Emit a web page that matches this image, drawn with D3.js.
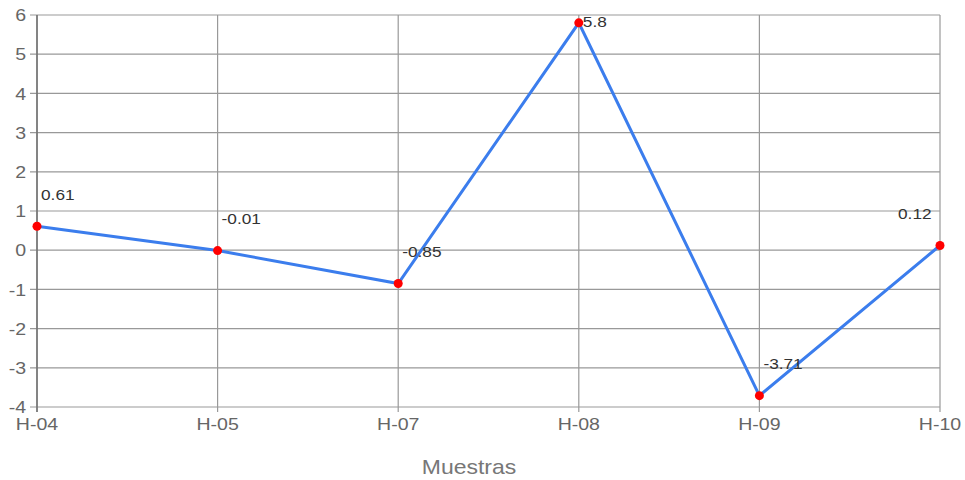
<!DOCTYPE html>
<html><head><meta charset="utf-8">
<script src="https://cdn.jsdelivr.net/npm/d3@7"></script>
<style>body{margin:0;background:#fff;}svg{display:block;font-family:"Liberation Sans",Arial,sans-serif;}</style>
</head><body>
<svg id="c" width="965" height="480"></svg>
<script>
const categories = ["H-04","H-05","H-07","H-08","H-09","H-10"];
const values = [0.61,-0.01,-0.85,5.8,-3.71,0.12];
const yTicks = [-4,-3,-2,-1,0,1,2,3,4,5,6];
const xTitle = "Muestras";

const svg = d3.select("#c");
const m = {l:37, r:25, t:15, b:73};
const W = 965, H = 480;
const SX = 1.15;
const x = d3.scalePoint().domain(categories).range([m.l, W - m.r]);
const y = d3.scaleLinear().domain([-4,6]).range([H - m.b, m.t]);
const tf = (px, py) => `translate(${px},${py}) scale(${SX},1)`;

const g = svg.append("g");
g.selectAll(".hg").data(yTicks).join("line")
  .attr("x1", m.l - 7).attr("x2", W - m.r)
  .attr("y1", d => y(d)).attr("y2", d => y(d))
  .attr("stroke", "#999").attr("stroke-width", 1.2);
g.selectAll(".vg").data(categories).join("line")
  .attr("x1", d => x(d)).attr("x2", d => x(d))
  .attr("y1", m.t).attr("y2", H - m.b + 5)
  .attr("stroke", d => d === categories[0] ? "#777" : "#999")
  .attr("stroke-width", d => d === categories[0] ? 1.8 : 1.2);

g.selectAll(".yl").data(yTicks).join("text")
  .attr("transform", d => tf(m.l - 11, y(d))).attr("dy", "0.36em")
  .attr("text-anchor", "end").attr("font-size", 17).attr("fill", "#666")
  .text(d => d);
g.selectAll(".xl").data(categories).join("text")
  .attr("transform", d => tf(x(d), H - m.b + 23))
  .attr("text-anchor", "middle").attr("font-size", 17).attr("fill", "#666")
  .text(d => d);
svg.append("text").attr("transform", tf(469, 474)).attr("text-anchor", "middle")
  .attr("font-size", 20).attr("fill", "#777").text(xTitle);

const data = categories.map((c,i) => ({c, v: values[i]}));
g.append("path").datum(data)
  .attr("fill", "none").attr("stroke", "#3b7ded").attr("stroke-width", 3)
  .attr("d", d3.line().x(d => x(d.c)).y(d => y(d.v)));
g.selectAll(".pt").data(data).join("circle")
  .attr("cx", d => x(d.c)).attr("cy", d => y(d.v)).attr("r", 4.5).attr("fill", "#f00");

g.selectAll(".dl").data(data).join("text")
  .attr("font-size", 15).attr("fill", "#333").attr("dy", "0.36em")
  .attr("transform", d => {
    const px = x(d.c) + 4;
    const lx = px + 38 > W ? W - 67 : px;
    return tf(lx, Math.max(y(d.v) - 32, m.t + 7));
  })
  .text(d => d.v);
</script>
</body></html>
